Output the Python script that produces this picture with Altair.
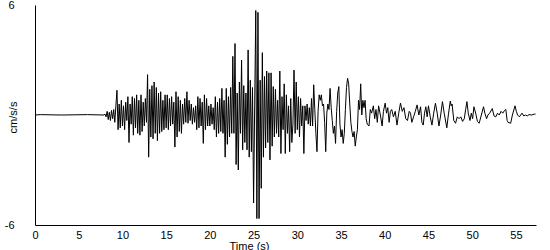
import altair as alt
import pandas as pd

# quiet pre-event record
pre_t = [0.0, 0.6, 3.0, 6.0, 7.9]
pre_v = [0.0, 0.02, 0.0, 0.02, 0.0]

# main shaking, sampled every 0.125 s from 8.0 s
main_start = 8.0
main_dt = 0.125
main_v = [
    0.05, -0.1, 0.2, -0.25, 0.15, -0.3, 0.25, -0.2,      # 8
    0.3, -0.4, 0.5, 1.35, -0.8, 0.6, -0.7, 0.8,          # 9
    -0.6, 0.5, -0.8, 0.7, -0.3, 1.0, -1.5, 0.6,          # 10
    -0.5, 1.0, -1.1, 0.9, -0.7, 1.1, -1.0, 0.8,          # 11
    -1.1, 1.1, -0.9, 0.7, -0.6, 0.9, -0.4, 2.2,          # 12
    -2.3, 1.4, -1.2, 1.6, -1.3, 1.8, -1.0, 1.5,          # 13
    -1.4, 1.2, -1.0, 1.27, -0.9, 0.8, -0.8, 1.1,         # 14
    -0.7, 1.1, -0.8, 0.9, -0.6, 1.0, -0.5, 0.7,          # 15
    -1.75, 1.27, -1.2, 1.0, -0.9, 0.8, -1.0, 0.6,        # 16
    -0.5, 0.9, -0.4, 1.27, -0.45, 0.8, -0.3, 0.6,        # 17
    -0.5, 0.4, -0.4, 0.5, -0.8, 1.0, -0.7, 0.9,          # 18
    -0.6, 0.7, -1.55, 1.1, -0.8, 0.9, -0.6, 0.5,         # 19
    -0.6, 0.6, -0.5, 0.4, -0.8, 1.0, -1.2, 0.7,          # 20
    -1.0, 0.9, -0.9, 1.45, -1.0, 0.8, -2.3, 1.45,        # 21
    -1.6, 1.0, -1.2, 1.5, -1.0, 3.2, -1.0, 3.9,          # 22
    -2.7, 1.2, -3.0, 1.8, -1.0, 3.0, -1.9, 1.6,          # 23
    -1.5, 1.2, -1.9, 3.55, -2.3, 1.9, -2.0, 1.5,         # 24
    -4.8, 0.5, 5.7, -5.65, 5.6, -5.65, 1.9, -4.0,        # 25
    3.4, -2.3, 2.1, -1.8, 2.4, -1.5, 2.3, -2.45,         # 26
    2.3, -1.7, 1.55, -1.2, 1.4, -1.0, 0.8, -1.2,         # 27
    2.4, -2.1, 1.0, -0.8, 1.7, -2.1, 1.1, -1.0,          # 28
    0.5, -2.0, 0.9, -1.5, -0.5, 2.45, -1.0, 1.8,         # 29
    -0.8, 1.0, -1.2, 0.9, -0.6, 0.5, -2.1, 0.5,          # 30
    -0.3, 0.6, -0.5, 0.4, -0.6, 0.9, -0.6, 1.65,         # 31
    0.3, -1.0, -2.0, 0.2, 1.1, 0.8, 1.1, 0.5,            # 32
    0.6, -0.4, -2.0, 0.1, 0.6, 0.3, 1.45, 0.4,           # 33
    -0.3, -1.0, -0.6, -1.55, 0.2, 1.2, 1.55, -0.5,       # 34
    -1.2, -0.8, -1.55, -1.0, 0.3, 1.5, 2.0, 1.7,         # 35
    0.6, -0.4, -0.9, -1.2, -0.9, -1.7, -1.2, -0.8,       # 36
    0.8, 0.3, 1.7, 0.0, 0.8, 0.4, 0.8, -0.2,             # 37
]

# coda (surface-wave tail)
tail_t = [38.0, 38.2, 38.35, 38.5, 38.7, 38.85, 39.0, 39.15, 39.3, 39.5,
          39.7, 39.85, 40.05, 40.2, 40.35, 40.5, 40.65, 40.8, 41.0, 41.2,
          41.4, 41.6, 41.8, 42.0, 42.2, 42.4, 42.6, 42.8, 42.95, 43.1,
          43.3, 43.5, 43.7, 43.9, 44.1, 44.25, 44.4, 44.55, 44.7, 44.85,
          45.0, 45.2, 45.4, 45.6, 45.8, 46.0, 46.2, 46.4, 46.6, 46.8,
          47.1, 47.3, 47.5, 47.6, 47.7, 47.9, 48.1, 48.3, 48.5, 48.7,
          48.9, 49.1, 49.25, 49.4, 49.55, 49.75, 49.9, 50.05, 50.2, 50.4,
          50.6, 50.8, 51.05, 51.3, 51.45, 51.65, 51.8, 52.0, 52.3, 52.5,
          52.7, 52.9, 53.1, 53.3, 53.5, 53.7, 53.85, 54.0, 54.1, 54.4,
          54.6, 54.9, 55.05, 55.2, 55.4, 55.55, 55.7, 55.9, 56.1, 56.3,
          56.5, 56.8, 57.1, 57.25]
tail_v = [-0.5, -0.6, 0.3, 0.1, 0.5, -0.2, 0.3, -0.4, 0.5, 0.0,
          -0.6, 0.2, 0.65, 0.1, 0.4, -0.4, 0.2, 0.3, -0.1, 0.2,
          -0.55, 0.1, 0.65, 0.2, 0.4, -0.2, -0.3, 0.2, 0.1, -0.4,
          -0.1, 0.2, 0.55, 0.0, 0.45, -0.4, -0.55, 0.1, 0.45, -0.1,
          0.5, -0.1, -0.55, 0.1, 0.64, 0.1, -0.6, 0.0, 0.73, 0.1,
          -0.7, 0.1, 0.76, 0.5, 0.6, -0.3, -0.45, -0.1, -0.2, -0.1,
          -0.35, -0.2, 0.3, 0.73, 0.1, -0.3, 0.1, -0.2, 0.45, 0.1,
          -0.35, -0.45, 0.0, 0.45, 0.1, -0.2, 0.0, 0.1, 0.35, -0.05,
          -0.1, 0.1, 0.0, 0.2, 0.1, 0.25, 0.3, -0.3, -0.4, -0.45,
          0.0, 0.5, 0.2, 0.0, -0.1, 0.0, 0.1, -0.05, 0.0, -0.05,
          0.02, 0.0, 0.05, 0.05]

main_t = [main_start + i * main_dt for i in range(len(main_v))]
df = pd.DataFrame({"t": pre_t + main_t + tail_t, "v": pre_v + main_v + tail_v})

FONT = "Liberation Sans"

chart = alt.Chart(df).mark_line(color="black", strokeWidth=1, clip=True).encode(
    x=alt.X("t:Q",
            scale=alt.Scale(domain=[0, 57.3], nice=False, zero=False),
            axis=alt.Axis(values=list(range(0, 60, 5)), title="Time (s)",
                          ticks=False, grid=False, labelFlush=False,
                          labelOverlap=False, labelPadding=4,
                          domainColor="black", domainWidth=1,
                          titleX=214, titleY=15, titleBaseline="top",
                          titleAlign="center", titleAnchor="start")),
    y=alt.Y("v:Q",
            scale=alt.Scale(domain=[-6, 6], nice=False),
            axis=alt.Axis(values=[-6, 6], title="cm/s/s", ticks=False,
                          tickSize=0, grid=False, labelPadding=21,
                          labelOverlap=False,
                          labelExpr="'' + datum.value",
                          domainColor="black", domainWidth=1,
                          titleX=-22, titleY=112, titleAngle=270,
                          titleBaseline="middle", titleAlign="center",
                          titleAnchor="start")),
).properties(
    width=501, height=220,
    autosize=alt.AutoSizeParams(type="none"),
    padding={"left": 35, "top": 5, "right": 14, "bottom": 25},
    background="white",
).configure_view(stroke=None).configure_axis(
    labelFont=FONT, labelFontSize=11, labelColor="black",
    titleFont=FONT, titleFontSize=11, titleColor="black",
    titleFontWeight="normal",
)

chart.save("out.html", embed_options={"renderer": "svg", "actions": False})
